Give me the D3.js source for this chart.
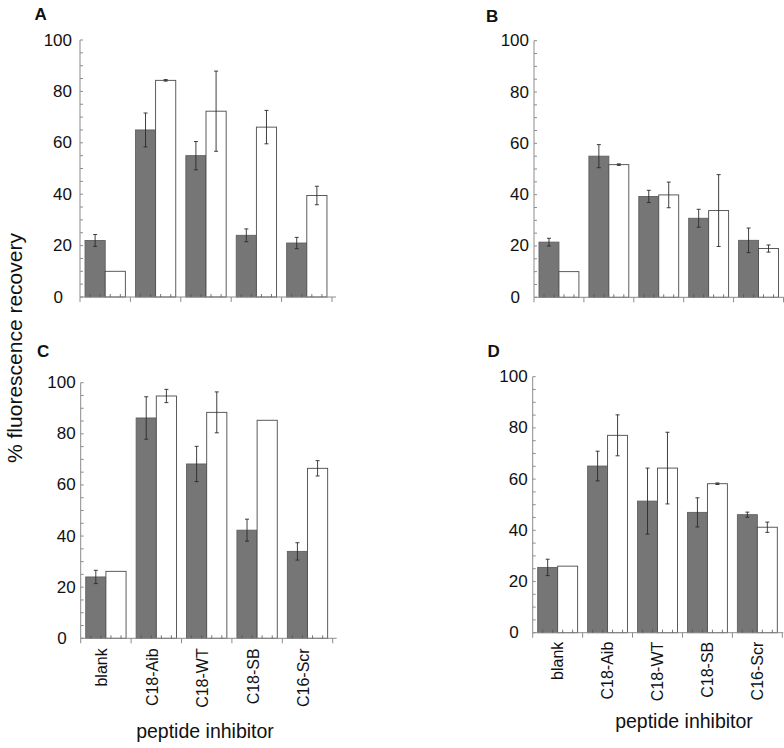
<!DOCTYPE html>
<html><head><meta charset="utf-8">
<script src="https://cdn.jsdelivr.net/npm/d3@7"></script>
<style>body{margin:0;background:#fff}svg{display:block}text{font-family:"Liberation Sans",Arial,Helvetica,sans-serif;fill:#111}</style>
</head><body>
<svg id="chart" width="784" height="748"></svg>
<script>
// ---- data ----
const categories = ["blank", "C18-Aib", "C18-WT", "C18-SB", "C16-Scr"];
const seriesKeys = ["filled", "open"];
const yTicks = [0, 20, 40, 60, 80, 100];
const panelLabels = ["A", "B", "C", "D"];

const filledA = [22, 65, 55, 24, 21];
const filledErrA = [2.3, 6.6, 5.5, 2.5, 2.2];
const openA = [10, 84.3, 72.3, 66.1, 39.5];
const openErrA = [0, 0.3, 15.6, 6.5, 3.6];

const filledB = [21.5, 55, 39.3, 30.8, 22.2];
const filledErrB = [1.5, 4.5, 2.4, 3.5, 4.8];
const openB = [10, 51.7, 39.9, 33.8, 19];
const openErrB = [0, 0.3, 5, 14, 1.4];

const filledC = [24, 86.2, 68.2, 42.3, 34];
const filledErrC = [2.6, 8.3, 6.9, 4.3, 3.4];
const openC = [26.2, 94.8, 88.4, 85.3, 66.5];
const openErrC = [0, 2.6, 8, 0, 3];

const filledD = [25.5, 65.1, 51.4, 47, 46.1];
const filledErrD = [3.2, 5.8, 12.9, 5.7, 1];
const openD = [26, 77.1, 64.3, 58.2, 41.2];
const openErrD = [0, 8, 14, 0.3, 2];

const yTitle = "% fluorescence recovery";
const xTitle = "peptide inhibitor";

// ---- layout ----
const svg = d3.select("#chart");
const panels = [
  {label: panelLabels[0], filled: filledA, fErr: filledErrA, open: openA, oErr: openErrA,
   x0: 80, x1: 332, y0: 297, y1: 40, lx: 34.5, ly: 20, cats: false, axisExt: 4},
  {label: panelLabels[1], filled: filledB, fErr: filledErrB, open: openB, oErr: openErrB,
   x0: 534, x1: 783.5, y0: 297.3, y1: 40.7, lx: 486, ly: 21.5, cats: false, axisExt: 1},
  {label: panelLabels[2], filled: filledC, fErr: filledErrC, open: openC, oErr: openErrC,
   x0: 80.7, x1: 332.7, y0: 638.3, y1: 382.7, lx: 37, ly: 356.5, cats: true, catDx: 1.5, catTop: 10, axisExt: 4,
   title: {x: 205, y: 738}},
  {label: panelLabels[3], filled: filledD, fErr: filledErrD, open: openD, oErr: openErrD,
   x0: 532.7, x1: 782.3, y0: 632.7, y1: 376.7, lx: 487.5, ly: 356.5, cats: true, catDx: 5.5, catTop: 9, axisExt: 1,
   title: {x: 684, y: 728}}
];

const FILL = "#767676", AXIS = "#8c8c8c", BAR_STROKE = "#4a4a4a", ERR = "#2a2a2a";

panels.forEach(p => {
  const g = svg.append("g");
  const x = d3.scaleBand().domain(categories).range([p.x0, p.x1]).paddingInner(0.2).paddingOuter(0.1);
  const xs = d3.scaleBand().domain(seriesKeys).range([0, x.bandwidth()]);
  const y = d3.scaleLinear().domain([0, 100]).range([p.y0, p.y1]);

  const rows = [];
  categories.forEach((c, i) => {
    rows.push({cat: c, key: "filled", v: p.filled[i], e: p.fErr[i]});
    rows.push({cat: c, key: "open", v: p.open[i], e: p.oErr[i]});
  });

  // bars
  g.selectAll("rect.bar").data(rows).join("rect")
    .attr("x", d => x(d.cat) + xs(d.key))
    .attr("y", d => y(d.v))
    .attr("width", xs.bandwidth())
    .attr("height", d => y(0) - y(d.v))
    .attr("fill", d => d.key === "filled" ? FILL : "#fff")
    .attr("stroke", d => d.key === "filled" ? "#606060" : BAR_STROKE)
    .attr("stroke-width", 0.9);

  // axes
  const step = x.step();
  g.append("line").attr("x1", p.x0).attr("x2", p.x1 + p.axisExt)
    .attr("y1", y(0)).attr("y2", y(0)).attr("stroke", AXIS).attr("stroke-width", 1);
  g.append("line").attr("x1", p.x0).attr("x2", p.x0)
    .attr("y1", y(100)).attr("y2", y(0)).attr("stroke", AXIS).attr("stroke-width", 1);
  const minor = d3.range(0, 101, 5);
  g.selectAll("line.ytk").data(minor).join("line")
    .attr("x1", p.x0).attr("x2", p.x0 + 3)
    .attr("y1", d => y(d)).attr("y2", d => y(d))
    .attr("stroke", AXIS).attr("stroke-width", 1);
  const divs = d3.range(categories.length + 1).map(i => x.range()[0] + i * step);
  g.selectAll("line.xdiv").data(divs).join("line")
    .attr("x1", d => d).attr("x2", d => d)
    .attr("y1", y(0)).attr("y2", y(0) + 5)
    .attr("stroke", AXIS).attr("stroke-width", 1);
  const minors = [];
  divs.slice(0, -1).forEach(d => { for (let k = 1; k < 5; k++) minors.push(d + k * step / 5); });
  g.selectAll("line.xmin").data(minors).join("line")
    .attr("x1", d => d).attr("x2", d => d)
    .attr("y1", y(0)).attr("y2", y(0) - 3)
    .attr("stroke", "#555").attr("stroke-width", 0.8);

  // error bars
  const eb = g.selectAll("g.eb").data(rows.filter(d => d.e > 0)).join("g")
    .attr("transform", d => `translate(${x(d.cat) + xs(d.key) + xs.bandwidth() / 2},0)`);
  eb.append("line").attr("x1", 0).attr("x2", 0)
    .attr("y1", d => y(d.v + d.e)).attr("y2", d => y(d.v - d.e))
    .attr("stroke", ERR).attr("stroke-width", 0.9);
  eb.append("line").attr("x1", -2).attr("x2", 2)
    .attr("y1", d => y(d.v + d.e)).attr("y2", d => y(d.v + d.e))
    .attr("stroke", ERR).attr("stroke-width", 0.9);
  eb.append("line").attr("x1", -2).attr("x2", 2)
    .attr("y1", d => y(d.v - d.e)).attr("y2", d => y(d.v - d.e))
    .attr("stroke", ERR).attr("stroke-width", 0.9);

  // y tick labels
  const gap = p.label === "A" ? 8 : 5;
  g.selectAll("text.yl").data(yTicks).join("text")
    .attr("transform", d => `translate(${p.x0 - gap - (d === 0 ? 9 : 0)},${y(d)})`)
    .attr("text-anchor", "end").attr("dominant-baseline", "central")
    .style("font-size", "17px")
    .text(d => d);

  // panel letter
  g.append("text").attr("transform", `translate(${p.lx},${p.ly})`)
    .style("font-size", "17px").style("font-weight", "bold").text(p.label);

  // category labels
  if (p.cats) {
    g.selectAll("text.cat").data(categories).join("text")
      .attr("transform", d => `translate(${x(d) + x.bandwidth() / 2 + p.catDx},${y(0) + p.catTop}) rotate(-90)`)
      .attr("text-anchor", "end")
      .style("font-size", "16px")
      .text(d => d);
    g.append("text").attr("transform", `translate(${p.title.x},${p.title.y})`)
      .attr("text-anchor", "middle").style("font-size", "19.5px").text(xTitle);
  }
});

// y title
svg.append("text").attr("transform", "translate(21.5,348) rotate(-90)")
  .attr("text-anchor", "middle").style("font-size", "21px").text(yTitle);
</script>
</body></html>
